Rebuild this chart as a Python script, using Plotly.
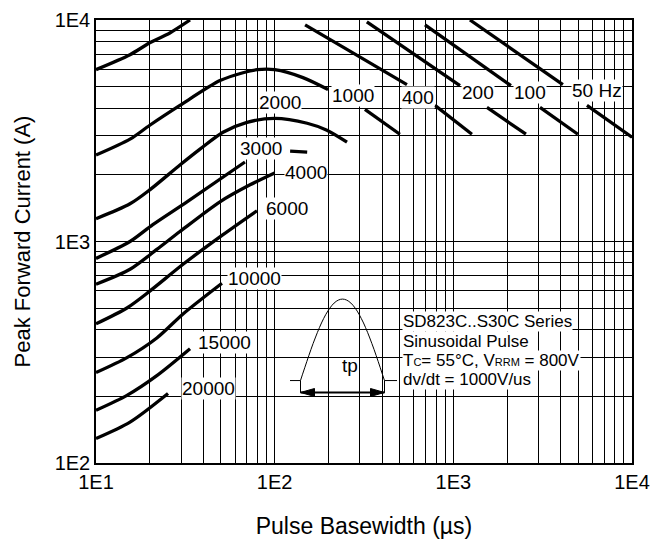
import numpy as np
import plotly.graph_objects as go

FONT = "Liberation Sans, Arial, sans-serif"

# ── Data: pulse basewidth (µs) vs peak forward current (A) ──
# None splits a curve where its label sits or where it runs off the top.

hz400_x = [10, 15.5, 20, 25.9, 33.6, None, 148, 274, 550, None, 789, 1271]
hz400_y = [5970, 6970, 7890, 8740, 10000, None, 9500, 7100, 5110, None, 4115, 3050]

hz1000_x = [10, 15.5, 20, 29.5, 49.4, 66.5, 79.6, 100, 144, 199, None, 320, 502]
hz1000_y = [2455, 2897, 3348, 4115, 5326, 5781, 5966, 5966, 5495, 4853, None, 3948, 3050]

hz2000_x = [10, 15.5, 20, 29.5, 38.2, 51.4, 70, 100, 152, 196, 254]
hz2000_y = [1268, 1480, 1711, 2215, 2612, 3113, 3452, 3597, 3418, 3179, 2808]

hz3000_x = [10, 15.5, 20.8, 32.3, 68.2, None, 122, 152]
hz3000_y = [839, 1000, 1192, 1511, 2285, None, 2559, 2534]

hz4000_x = [10, 15.5, 21.9, 29.5, 49.4, 72.8, 100]
hz4000_y = [641, 749, 921, 1109, 1511, 1803, 2039]

hz6000_x = [10, 14.9, 20, 30.7, 51.4, 79.6]
hz6000_y = [425, 501, 597, 789, 1074, 1377]

hz10000_x = [10, 14.9, 21.9, 30.7, 50.7]
hz10000_y = [256, 299, 367, 471, 648]

hz15000_x = [10, 14.9, 21.9, 33.6]
hz15000_y = [173, 202, 248, 328]

hz20000_x = [10, 15.5, 25.3]
hz20000_y = [129, 153, 206]

hz200_x = [328, 1089, None, 1542, 2549]
hz200_y = [9800, 5058, None, 4030, 3050]

hz100_x = [694, 2100, None, 3055, 4979]
hz100_y = [9500, 5058, None, 4030, 3050]

hz50_x = [1239, 4104, None, 5596, 10000]
hz50_y = [10000, 5110, None, 4115, 2958]

curves = [
    (hz400_x, hz400_y), (hz1000_x, hz1000_y), (hz2000_x, hz2000_y),
    (hz3000_x, hz3000_y), (hz4000_x, hz4000_y), (hz6000_x, hz6000_y),
    (hz10000_x, hz10000_y), (hz15000_x, hz15000_y), (hz20000_x, hz20000_y),
    (hz200_x, hz200_y), (hz100_x, hz100_y), (hz50_x, hz50_y),
]

# curve labels and where they sit (x µs, y A)
label_text = ["2000", "1000", "400", "200", "100", "50 Hz",
              "3000", "4000", "6000", "10000", "15000", "20000"]
label_x = [107, 274, 634, 1374, 2685, 6365, 83.8, 149.6, 117, 77.6, 52.7, 42.4]
label_y = [4246, 4560, 4467, 4708, 4708, 4805, 2641, 2039, 1406, 682, 349, 217]

x_decades = [10, 100, 1000, 10000]
x_ticktext = ["1E1", "1E2", "1E3", "1E4"]
y_decades = [100, 1000, 10000]
y_ticktext = ["1E2", "1E3", "1E4"]

info_lines = [
    "SD823C..S30C Series",
    "Sinusoidal Pulse",
    "T<span style='font-size:11px'>C</span>= 55°C, V<span style='font-size:11px'>RRM</span> = 800V",
    "dv/dt = 1000V/us",
]


def log_grid(decades):
    vals = []
    for d in decades[:-1]:
        for m in range(1, 10):
            vals.append(d * m)
    vals.append(decades[-1])
    return vals


fig = go.Figure()
for cx, cy in curves:
    fig.add_trace(go.Scatter(
        x=cx, y=cy, mode="lines",
        line=dict(color="black", width=3.3, shape="spline", smoothing=0.8),
        showlegend=False, hoverinfo="skip",
    ))

for t, lx, ly in zip(label_text, label_x, label_y):
    fig.add_annotation(
        x=np.log10(lx), y=np.log10(ly), text=t, showarrow=False,
        font=dict(family=FONT, size=19, color="black"),
        bgcolor="white", borderpad=0,
    )

# ── inset: half-sine pulse sketch (fractions of the plot area) ──
px = lambda v: (v - 96) / 536
py = lambda v: (463 - v) / 446

fig.add_shape(type="rect", xref="paper", yref="paper", layer="between",
              x0=px(283), x1=px(402), y0=py(397), y1=py(292),
              fillcolor="white", line=dict(width=0))

t = np.linspace(0, 1, 41)
xl, xr, base, top = px(300.5), px(384.5), py(380), py(298)
sx = xl + (xr - xl) * t
sy = base + (top - base) * np.sin(np.pi * t)
path = "M " + " L ".join(f"{a:.4f},{b:.4f}" for a, b in zip(sx, sy))
fig.add_shape(type="path", xref="paper", yref="paper", path=path,
              line=dict(color="black", width=1))
arrow_y = py(392)
for xa, xb in [(px(290), xl), (xr, px(397))]:
    fig.add_shape(type="line", xref="paper", yref="paper",
                  x0=xa, x1=xb, y0=base, y1=base, line=dict(color="black", width=1))
for xv in (xl, xr):
    fig.add_shape(type="line", xref="paper", yref="paper",
                  x0=xv, x1=xv, y0=base, y1=arrow_y, line=dict(color="black", width=1))
fig.add_shape(type="line", xref="paper", yref="paper",
              x0=xl, x1=xr, y0=arrow_y, y1=arrow_y, line=dict(color="black", width=2))
ah_w, ah_h = 14 / 536, 4 / 446
for tip, sgn in [(xl, 1), (xr, -1)]:
    fig.add_shape(type="path", xref="paper", yref="paper",
                  path=f"M {tip},{arrow_y} L {tip + sgn * ah_w},{arrow_y + ah_h} "
                       f"L {tip + sgn * ah_w},{arrow_y - ah_h} Z",
                  fillcolor="black", line=dict(color="black", width=1))
fig.add_annotation(xref="paper", yref="paper", x=px(350), y=py(377), text="tp",
                   showarrow=False, font=dict(family=FONT, size=19, color="black"))

for i, line in enumerate(info_lines):
    fig.add_annotation(
        xref="paper", yref="paper", x=px(402), y=py(321 + 19.3 * i),
        xanchor="left", yanchor="middle", text=line, showarrow=False,
        font=dict(family=FONT, size=17, color="black"),
        bgcolor="white", borderpad=0,
    )

axis_common = dict(
    type="log", showgrid=True, gridcolor="black", gridwidth=1,
    showline=True, linecolor="black", linewidth=1.5, mirror=True,
    ticks="", zeroline=False, ticklabeloverflow="allow",
    tickfont=dict(family=FONT, size=20, color="black"),
)

xv = log_grid(x_decades)
yv = log_grid(y_decades)
fig.update_xaxes(
    **axis_common, range=[1, 4], tickvals=xv,
    ticktext=[x_ticktext[x_decades.index(v)] if v in x_decades else "" for v in xv],
    title=dict(text="Pulse Basewidth (µs)", font=dict(family=FONT, size=23, color="black"),
               standoff=26),
)
fig.update_yaxes(
    **axis_common, range=[2, 4], tickvals=yv,
    ticktext=[y_ticktext[y_decades.index(v)] if v in y_decades else "" for v in yv],
    title=dict(text="Peak Forward Current (A)", font=dict(family=FONT, size=22, color="black"),
               standoff=18),
)

fig.update_layout(
    width=666, height=545,
    margin=dict(l=88, r=42, t=12, b=90, autoexpand=False),
    paper_bgcolor="white", plot_bgcolor="white",
    font=dict(family=FONT, color="black"),
    showlegend=False,
)

fig.write_html("out.html")
